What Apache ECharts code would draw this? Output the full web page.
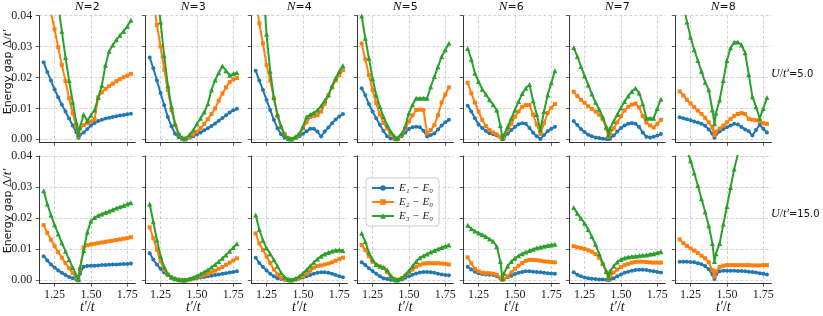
<!DOCTYPE html>
<html><head><meta charset="utf-8">
<script src="https://cdn.jsdelivr.net/npm/echarts@6/dist/echarts.min.js"></script>
<style>html,body{margin:0;padding:0;background:#fff}#c{width:823px;height:316px}</style>
</head><body><div id="c"></div>
<script>
// x values: t'/t (uniform grid plus the point sqrt(2))
const tRatio = [1.175,1.2,1.225,1.25,1.275,1.3,1.325,1.35,1.375,1.4,1.4142,1.425,1.45,1.475,1.5,1.525,1.55,1.575,1.6,1.625,1.65,1.675,1.7,1.725,1.75,1.775];
const nLabels = ['2','3','4','5','6','7','8'];
const uLabels = ['5.0','15.0'];
const xTicks = [1.25, 1.5, 1.75];
const yTicks = [0, 0.01, 0.02, 0.03, 0.04];
const seriesNames = ['E\u2081 \u2212 E\u2080', 'E\u2082 \u2212 E\u2080', 'E\u2083 \u2212 E\u2080'];

// U/t' = 5.0
const u5_n2_e1 = [0.0249,0.0218,0.019,0.0162,0.0136,0.0112,0.009,0.0067,0.0045,0.0023,0.0005,0.0015,0.0022,0.0033,0.0045,0.0053,0.0059,0.0063,0.0067,0.007,0.0072,0.0075,0.0077,0.0079,0.0081,0.0083];
const u5_n2_e2 = [0.052,0.0465,0.041,0.0356,0.0298,0.024,0.0189,0.0133,0.0084,0.004,0.001,0.0035,0.0046,0.0052,0.0058,0.0064,0.0136,0.0152,0.0163,0.0172,0.018,0.0188,0.0195,0.0201,0.0206,0.0212];
const u5_n2_e3 = [0.0775,0.069,0.0605,0.052,0.0435,0.035,0.0265,0.019,0.012,0.0055,0.0015,0.004,0.008,0.006,0.0078,0.0095,0.0135,0.0175,0.024,0.0285,0.0305,0.0322,0.0337,0.035,0.0365,0.0385];
const u5_n3_e1 = [0.0265,0.023,0.019,0.015,0.011,0.0072,0.0042,0.0018,0.0007,0.0002,0.0001,0.0002,0.0005,0.001,0.0016,0.0022,0.0029,0.0036,0.0043,0.0051,0.006,0.0069,0.0078,0.0087,0.0094,0.0099];
const u5_n3_e2 = [0.052,0.045,0.037,0.030,0.0225,0.016,0.0095,0.0045,0.0015,0.0003,0.0001,0.0002,0.0008,0.0015,0.0025,0.0036,0.005,0.0065,0.0082,0.010,0.0125,0.0148,0.0168,0.0185,0.0194,0.0198];
const u5_n3_e3 = [0.072,0.061,0.049,0.038,0.027,0.0175,0.0106,0.005,0.0018,0.0004,0.0001,0.0004,0.0015,0.003,0.005,0.0068,0.0088,0.0115,0.016,0.0192,0.0215,0.0237,0.0222,0.0207,0.0212,0.0215];
const u5_n4_e1 = [0.0222,0.019,0.016,0.0127,0.0095,0.0063,0.0036,0.0016,0.0005,0.0001,0,0.0001,0.0004,0.001,0.0018,0.0026,0.0034,0.0034,0.0025,0.0009,0.0025,0.0038,0.0052,0.0064,0.0074,0.0082];
const u5_n4_e2 = [0.046,0.0375,0.031,0.024,0.019,0.0133,0.0075,0.0038,0.0017,0.0004,0.0001,0.0001,0.0005,0.0015,0.0036,0.0055,0.0072,0.0075,0.0078,0.009,0.0115,0.0143,0.0168,0.019,0.0208,0.0224];
const u5_n4_e3 = [0.075,0.064,0.051,0.034,0.022,0.0135,0.008,0.0042,0.0012,0.0003,0.0001,0.0002,0.0008,0.0018,0.0041,0.0072,0.008,0.0086,0.0094,0.0108,0.0125,0.0143,0.0172,0.0198,0.022,0.0238];
const u5_n5_e1 = [0.0165,0.0143,0.0114,0.009,0.0068,0.0047,0.0027,0.001,0.0003,0.0001,0,0.0002,0.001,0.0022,0.0033,0.0039,0.0041,0.0039,0.0028,0.0009,0.0014,0.0019,0.0032,0.0045,0.0055,0.0063];
const u5_n5_e2 = [0.031,0.0259,0.0208,0.016,0.0117,0.008,0.0053,0.0036,0.0016,0.0004,0.0001,0.0002,0.0013,0.0035,0.0058,0.0078,0.0095,0.0096,0.0094,0.0019,0.003,0.0046,0.0078,0.0119,0.0145,0.0168];
const u5_n5_e3 = [0.0399,0.0327,0.0262,0.0197,0.0143,0.0106,0.0073,0.0046,0.0025,0.001,0.0002,0.0006,0.0018,0.0042,0.0085,0.0112,0.0133,0.0133,0.0133,0.0133,0.017,0.0203,0.0235,0.0268,0.029,0.0311];
const u5_n6_e1 = [0.0109,0.009,0.0068,0.0048,0.0037,0.0027,0.002,0.0016,0.0012,0.0008,0.0005,0.0008,0.0018,0.003,0.004,0.0049,0.0052,0.005,0.0037,0.0021,0.001,0.0001,0.0014,0.0026,0.0034,0.0041];
const u5_n6_e2 = [0.0183,0.0149,0.0119,0.009,0.0063,0.0043,0.003,0.0022,0.0016,0.0008,0.0003,0.0006,0.003,0.005,0.0073,0.009,0.0105,0.0111,0.0111,0.008,0.0048,0.0017,0.0052,0.0085,0.0102,0.0114];
const u5_n6_e3 = [0.0294,0.0259,0.0214,0.0187,0.0162,0.0146,0.0128,0.0112,0.0095,0.0045,0.0003,0.0015,0.0041,0.0068,0.0095,0.0122,0.0148,0.0165,0.0177,0.0125,0.008,0.003,0.009,0.0143,0.0183,0.0222];
const u5_n7_e1 = [0.0059,0.0046,0.0033,0.0024,0.0015,0.001,0.0006,0.0004,0.0002,0.0001,0.0001,0.0002,0.0012,0.0025,0.0037,0.0045,0.005,0.0053,0.005,0.004,0.0022,0.0008,0.0006,0.0008,0.0012,0.0017];
const u5_n7_e2 = [0.0154,0.014,0.0128,0.0118,0.0107,0.0098,0.009,0.008,0.0065,0.0035,0.0008,0.0018,0.0035,0.0055,0.0075,0.0093,0.0105,0.0112,0.0116,0.0103,0.0075,0.0054,0.0045,0.0038,0.005,0.0063];
const u5_n7_e3 = [0.0297,0.0268,0.0236,0.0205,0.0176,0.0147,0.012,0.0097,0.0072,0.004,0.0014,0.0035,0.0058,0.008,0.0102,0.0122,0.014,0.0155,0.0165,0.015,0.0115,0.0068,0.0068,0.0068,0.01,0.013];
const u5_n8_e1 = [0.0071,0.0068,0.0065,0.0062,0.0058,0.0054,0.005,0.0044,0.0032,0.0018,0.0005,0.0016,0.0025,0.0033,0.0039,0.0045,0.005,0.0048,0.004,0.0032,0.0026,0.0012,0.003,0.0047,0.0034,0.0022];
const u5_n8_e2 = [0.0155,0.0142,0.0128,0.0116,0.0104,0.0093,0.0082,0.007,0.0055,0.0038,0.0013,0.0025,0.0035,0.0044,0.0055,0.0066,0.0076,0.0082,0.0085,0.0082,0.0066,0.0063,0.0062,0.0058,0.0052,0.005];
const u5_n8_e3 = [0.047,0.0435,0.038,0.033,0.029,0.0255,0.022,0.0185,0.016,0.0095,0.005,0.0085,0.0127,0.019,0.0255,0.0296,0.0314,0.0315,0.0305,0.028,0.021,0.0138,0.0105,0.0068,0.01,0.0135];

// U/t' = 15.0
const u15_n2_e1 = [0.0077,0.0063,0.005,0.004,0.0031,0.0023,0.0016,0.001,0.0006,0.0002,0,0.002,0.0043,0.0045,0.0046,0.0046,0.0047,0.0048,0.0048,0.0049,0.005,0.005,0.0051,0.0052,0.0052,0.0053];
const u15_n2_e2 = [0.0177,0.0152,0.013,0.011,0.009,0.0072,0.0055,0.0038,0.0022,0.0008,0.0001,0.0035,0.0105,0.0112,0.0115,0.0117,0.0119,0.0121,0.0123,0.0125,0.0127,0.0129,0.0131,0.0133,0.0135,0.0138];
const u15_n2_e3 = [0.0288,0.0245,0.021,0.0178,0.0148,0.012,0.0093,0.0066,0.004,0.0015,0.0001,0.004,0.0095,0.0155,0.019,0.0202,0.0208,0.0213,0.0218,0.0222,0.0227,0.0232,0.0236,0.024,0.0245,0.0249];
const u15_n3_e1 = [0.0086,0.0066,0.005,0.0036,0.0024,0.0015,0.0009,0.0005,0.0002,0.0001,0,0,0.0002,0.0004,0.0006,0.0008,0.001,0.0012,0.0014,0.0016,0.0018,0.002,0.0022,0.0024,0.0026,0.0028];
const u15_n3_e2 = [0.017,0.0135,0.0098,0.006,0.0033,0.0017,0.0008,0.0003,0.0001,0,0,0,0.0002,0.0005,0.0008,0.0012,0.0016,0.002,0.0025,0.003,0.0036,0.0042,0.0049,0.0056,0.0063,0.007];
const u15_n3_e3 = [0.0245,0.0188,0.0129,0.0077,0.0042,0.002,0.0009,0.0004,0.0001,0,0,0.0001,0.0004,0.0008,0.0013,0.0019,0.0026,0.0033,0.0041,0.005,0.006,0.007,0.0081,0.0093,0.0105,0.0117];
const u15_n4_e1 = [0.0072,0.0055,0.0042,0.0031,0.002,0.0012,0.0006,0.0003,0.0001,0,0,0,0.0002,0.0005,0.0008,0.0012,0.0016,0.002,0.0023,0.0025,0.0025,0.0023,0.002,0.0016,0.0012,0.0009];
const u15_n4_e2 = [0.015,0.0118,0.0097,0.0076,0.0055,0.0034,0.0018,0.0007,0.0002,0.0001,0,0,0.0002,0.0006,0.0012,0.002,0.003,0.004,0.0045,0.0047,0.005,0.0053,0.0057,0.0062,0.0067,0.0072];
const u15_n4_e3 = [0.021,0.0163,0.0128,0.0103,0.0085,0.0065,0.0044,0.0023,0.0009,0.0002,0,0.0001,0.0005,0.0012,0.0022,0.0033,0.0045,0.0057,0.0068,0.0077,0.0084,0.0089,0.0093,0.0096,0.0097,0.0095];
const u15_n5_e1 = [0.0057,0.0048,0.0038,0.0029,0.002,0.0012,0.0006,0.0003,0.0001,0,0,0,0.0002,0.0007,0.0012,0.0017,0.0021,0.0024,0.0026,0.0026,0.0025,0.0023,0.002,0.0018,0.0016,0.0015];
const u15_n5_e2 = [0.0113,0.0097,0.0077,0.0058,0.0049,0.0044,0.0039,0.0025,0.001,0.0003,0,0.0001,0.0006,0.0014,0.0024,0.0034,0.0043,0.0049,0.0053,0.0054,0.0054,0.0054,0.0054,0.0053,0.0052,0.005];
const u15_n5_e3 = [0.0151,0.0124,0.0088,0.0066,0.005,0.0044,0.0041,0.0032,0.0014,0.0003,0,0.0001,0.0006,0.0017,0.003,0.0045,0.006,0.0072,0.0078,0.0084,0.009,0.0095,0.01,0.0105,0.0109,0.0113];
const u15_n6_e1 = [0.0043,0.0034,0.0027,0.0022,0.0019,0.0018,0.0017,0.0016,0.0012,0.0006,0.0002,0.0004,0.0009,0.0014,0.0019,0.0023,0.0026,0.0028,0.0028,0.0027,0.0026,0.0025,0.0023,0.0022,0.0021,0.002];
const u15_n6_e2 = [0.0073,0.0054,0.0036,0.0028,0.0024,0.0022,0.0022,0.002,0.0017,0.0008,0.0001,0.0003,0.0012,0.0024,0.0036,0.0046,0.0055,0.0062,0.0065,0.0065,0.0064,0.0062,0.006,0.0059,0.0058,0.0057];
const u15_n6_e3 = [0.0177,0.0165,0.0158,0.0152,0.0146,0.014,0.0132,0.0125,0.0108,0.006,0.0004,0.0022,0.0045,0.006,0.007,0.0078,0.0085,0.009,0.0095,0.0099,0.0103,0.0106,0.0109,0.0111,0.0113,0.0115];
const u15_n7_e1 = [0.0025,0.0017,0.0012,0.0008,0.0006,0.0004,0.0003,0.0002,0.0002,0.0001,0,0.0001,0.0006,0.0012,0.0018,0.0023,0.0027,0.003,0.0032,0.0033,0.0033,0.0032,0.003,0.0028,0.0026,0.0024];
const u15_n7_e2 = [0.0109,0.0106,0.0103,0.01,0.0096,0.0091,0.0084,0.0072,0.0052,0.0025,0.0004,0.0012,0.0024,0.0034,0.0042,0.0048,0.0052,0.0056,0.0058,0.0059,0.0059,0.0058,0.0057,0.0056,0.0056,0.0056];
const u15_n7_e3 = [0.0234,0.0215,0.0199,0.0183,0.0163,0.014,0.0115,0.0085,0.0055,0.0028,0.0009,0.0028,0.0045,0.0058,0.0066,0.0071,0.0074,0.0076,0.0077,0.0078,0.008,0.0081,0.0083,0.0085,0.0088,0.0091];
const u15_n8_e1 = [0.0059,0.0059,0.0059,0.0058,0.0057,0.0054,0.0051,0.0045,0.0035,0.0018,0.0003,0.0018,0.0028,0.003,0.003,0.003,0.003,0.0029,0.0029,0.0028,0.0027,0.0026,0.0024,0.0022,0.002,0.0018];
const u15_n8_e2 = [0.0131,0.0119,0.011,0.0102,0.0095,0.0087,0.0078,0.007,0.0057,0.0032,0.0011,0.0028,0.0042,0.0046,0.0048,0.0048,0.0048,0.0048,0.0048,0.0048,0.0048,0.0047,0.0047,0.0047,0.0048,0.0048];
const u15_n8_e3 = [0.05,0.046,0.042,0.0385,0.0345,0.0305,0.0262,0.022,0.0175,0.0118,0.006,0.0085,0.0118,0.018,0.0237,0.0298,0.0358,0.0405,0.046,0.052,0.058,0.064,0.07,0.076,0.082,0.088];

const panels = [
  [[u5_n2_e1,u5_n2_e2,u5_n2_e3],[u5_n3_e1,u5_n3_e2,u5_n3_e3],[u5_n4_e1,u5_n4_e2,u5_n4_e3],[u5_n5_e1,u5_n5_e2,u5_n5_e3],[u5_n6_e1,u5_n6_e2,u5_n6_e3],[u5_n7_e1,u5_n7_e2,u5_n7_e3],[u5_n8_e1,u5_n8_e2,u5_n8_e3]],
  [[u15_n2_e1,u15_n2_e2,u15_n2_e3],[u15_n3_e1,u15_n3_e2,u15_n3_e3],[u15_n4_e1,u15_n4_e2,u15_n4_e3],[u15_n5_e1,u15_n5_e2,u15_n5_e3],[u15_n6_e1,u15_n6_e2,u15_n6_e3],[u15_n7_e1,u15_n7_e2,u15_n7_e3],[u15_n8_e1,u15_n8_e2,u15_n8_e3]]
];

const colors = ['#1f77b4', '#ff7f0e', '#2ca02c'];
const symbols = ['circle', 'rect', 'triangle'];
const symbolSizes = [4, 4, 5];

const L0 = 39.3, DX = 106, W = 96;
const rowTop = [15.7, 156];
const rowH = [126.7, 127.1];
const SERIF = 'Liberation Serif';
const SANS = 'DejaVu Sans';

const grids = [], xAxes = [], yAxes = [], series = [], graphics = [];
for (let r = 0; r < 2; r++) {
  for (let c = 0; c < 7; c++) {
    const g = r * 7 + c;
    grids.push({ left: L0 + DX * c, top: rowTop[r], width: W, height: rowH[r] });
    xAxes.push({
      type: 'value', gridIndex: g, min: 1.145, max: 1.805,
      axisLine: { show: true, onZero: false, lineStyle: { color: '#333', width: 1 } },
      axisTick: { show: true, customValues: xTicks, length: 3.5, lineStyle: { color: '#333', width: 0.8 } },
      axisLabel: { show: r === 1, customValues: xTicks, formatter: v => v.toFixed(2), margin: 6,
        fontFamily: SERIF, fontSize: 12, color: '#222' },
      splitLine: { show: true, lineStyle: { color: '#c6c6c6', type: [3, 2], width: 0.8 } }
    });
    yAxes.push({
      type: 'value', gridIndex: g, min: -0.001, max: 0.04,
      axisLine: { show: true, onZero: false, lineStyle: { color: '#333', width: 1 } },
      axisTick: { show: true, customValues: yTicks, length: 3.5, lineStyle: { color: '#333', width: 0.8 } },
      axisLabel: { show: c === 0, customValues: yTicks, formatter: v => v.toFixed(2), margin: 7,
        fontFamily: SERIF, fontSize: 12, color: '#222' },
      splitLine: { show: true, lineStyle: { color: '#c6c6c6', type: [3, 2], width: 0.8 } }
    });
    for (let k = 0; k < 3; k++) {
      const vals = panels[r][c][k];
      series.push({
        type: 'line', name: seriesNames[k], xAxisIndex: g, yAxisIndex: g,
        data: tRatio.map((x, i) => [x, vals[i]]),
        symbol: symbols[k], symbolSize: symbolSizes[k], showSymbol: true,
        lineStyle: { color: colors[k], width: 2 },
        itemStyle: { color: colors[k] },
        clip: true, silent: true, animation: false, z: 2 + k
      });
    }
    if (r === 0) {
      graphics.push({ type: 'text', x: L0 + DX * c + W / 2, y: 7,
        style: { text: '{i|N}{a|=' + nLabels[c] + '}', align: 'center', verticalAlign: 'middle',
          rich: { i: { fontFamily: SERIF, fontStyle: 'italic', fontSize: 13, fill: '#111' },
                  a: { fontFamily: SANS, fontSize: 11, fill: '#111' } } } });
    } else {
      graphics.push({ type: 'text', x: L0 + DX * c + W / 2, y: 307,
        style: { text: '{i|t\u2032}{b|/}{i|t}', align: 'center', verticalAlign: 'middle',
          rich: { i: { fontFamily: SERIF, fontStyle: 'italic', fontSize: 14, fill: '#111' },
                  b: { fontFamily: SERIF, fontSize: 14, fill: '#111' } } } });
    }
  }
  // row y label
  graphics.push({ type: 'text', x: 8, y: r === 0 ? 72 : 211, rotation: Math.PI / 2,
    style: { text: '{a|Energy gap }{b|\u0394/}{i|t\u2032}', align: 'center', verticalAlign: 'middle',
      rich: { a: { fontFamily: SANS, fontSize: 11, fill: '#111' },
              b: { fontFamily: SERIF, fontSize: 13, fill: '#111' },
              i: { fontFamily: SERIF, fontStyle: 'italic', fontSize: 13, fill: '#111' } } } });
  // row U label
  graphics.push({ type: 'text', x: 771, y: r === 0 ? 74 : 214,
    style: { text: '{i|U}{b|/}{i|t\u2032}{a|=' + uLabels[r] + '}', align: 'left', verticalAlign: 'middle',
      rich: { i: { fontFamily: SERIF, fontStyle: 'italic', fontSize: 12, fill: '#111' },
              b: { fontFamily: SERIF, fontSize: 12, fill: '#111' },
              a: { fontFamily: SANS, fontSize: 10, fill: '#111' } } } });
}

const chart = echarts.init(document.getElementById('c'), null, { renderer: 'canvas' });
chart.setOption({
  animation: false,
  backgroundColor: '#ffffff',
  textStyle: { fontFamily: SANS },
  grid: grids, xAxis: xAxes, yAxis: yAxes, series: series,
  legend: {
    data: seriesNames, orient: 'vertical', left: 366, top: 178,
    backgroundColor: 'rgba(255,255,255,0.85)', borderColor: '#cccccc', borderWidth: 1, borderRadius: 3,
    padding: [4, 6, 4, 5], itemGap: 2, itemWidth: 22, itemHeight: 7,
    textStyle: { fontFamily: SERIF, fontStyle: 'italic', fontSize: 11, color: '#222', lineHeight: 12 },
    selectedMode: false
  },
  graphic: graphics
});
</script></body></html>
